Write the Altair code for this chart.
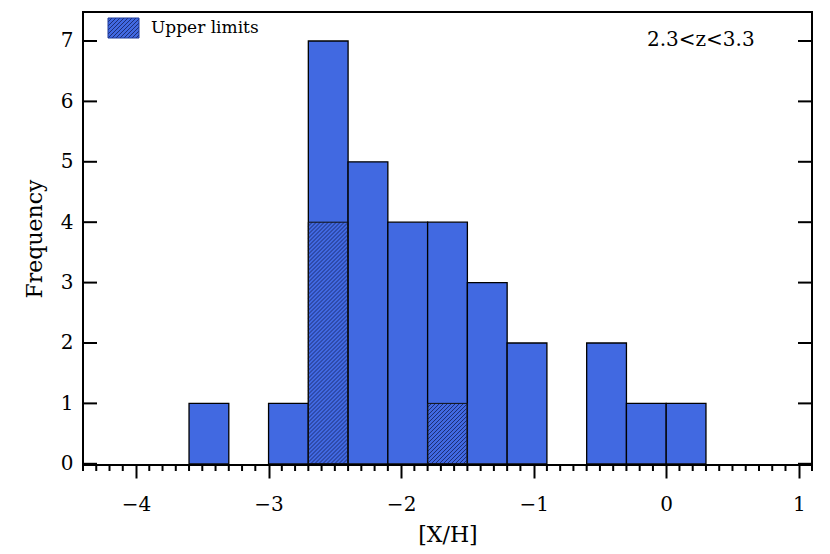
import altair as alt
import numpy as np
import pandas as pd

# ---- data ----
bin_left = [-3.6, -3.3, -3.0, -2.7, -2.4, -2.1, -1.8, -1.5, -1.2, -0.9, -0.6, -0.3, 0.0]
counts = [1, 0, 1, 7, 5, 4, 4, 3, 2, 0, 2, 1, 1]
upper_limits = [0, 0, 0, 4, 0, 0, 1, 0, 0, 0, 0, 0, 0]
bin_width = 0.3
x_major = [-4, -3, -2, -1, 0, 1]
y_major = [0, 1, 2, 3, 4, 5, 6, 7]
legend_label = ["Upper limits"]
panel_label = ["2.3<z<3.3"]

# ---- layout / style ----
XMIN, XMAX = -4.4, 1.1
YMIN, YMAX = -0.02, 7.48
W, H = 729, 453
FONT = "DejaVu Serif"
BLUE = "#4169E1"
HATCH = "#14205a"
PXX = W / (XMAX - XMIN)
PXY = H / (YMAX - YMIN)

xs = alt.Scale(domain=[XMIN, XMAX], nice=False, zero=False)
ys = alt.Scale(domain=[YMIN, YMAX], nice=False, zero=False)

bars = pd.DataFrame({
    "x0": bin_left,
    "x1": [b + bin_width for b in bin_left],
    "n": counts,
    "u": upper_limits,
})
bars["y0"] = 0
bars_nz = bars[bars["n"] > 0]
ul = bars[bars["u"] > 0]


def hatch_segments(x0, x1, y0, y1, step=4.0):
    """45-degree (screen space) hatch lines clipped to a data-space rectangle."""
    w = (x1 - x0) * PXX
    h = (y1 - y0) * PXY
    segs = []
    c = -h
    while c < w:
        a = max(0.0, c)
        b = min(w, h + c)
        if b > a:
            segs.append((x0 + a / PXX, y0 + (a - c) / PXY,
                         x0 + b / PXX, y0 + (b - c) / PXY))
        c += step
    return segs


rows = []
for _, r in ul.iterrows():
    rows += hatch_segments(r["x0"], r["x1"], 0, r["u"])

# legend swatch (placed in pixel space, converted to data space)
sw_px = (25, 56, 6, 26)  # left, right, top, bottom in plot pixels
sw_x0 = XMIN + sw_px[0] / PXX
sw_x1 = XMIN + sw_px[1] / PXX
sw_y1 = YMAX - sw_px[2] / PXY
sw_y0 = YMAX - sw_px[3] / PXY
rows += hatch_segments(sw_x0, sw_x1, sw_y0, sw_y1, step=4.0)
hatch = pd.DataFrame(rows, columns=["xa", "ya", "xb", "yb"])
swatch = pd.DataFrame({"x0": [sw_x0], "x1": [sw_x1], "y0": [sw_y0], "y1": [sw_y1]})

minor = [round(v, 1) for v in np.arange(-44, 12) / 10 if abs(v - round(v)) > 1e-6]

base_x = alt.X("x0:Q", scale=xs,
               axis=alt.Axis(values=x_major, format="d", tickSize=13, tickWidth=2, tickColor="black",
                             domain=False, grid=False, labelFont=FONT, labelFontSize=20,
                             labelColor="black", labelPadding=16,
                             labelExpr="replace(datum.label, '-', '\u2212')",
                             title="[X/H]", titleFont=FONT, titleFontSize=22,
                             titleFontWeight="normal", titleColor="black", titlePadding=10))
base_y = alt.Y("y0:Q", scale=ys,
               axis=alt.Axis(values=y_major, format="d", ticks=False, domain=False, grid=False,
                             labelFont=FONT, labelFontSize=20, labelColor="black",
                             labelPadding=10, title="Frequency", titleFont=FONT,
                             titleFontSize=22, titleFontWeight="normal",
                             titleColor="black", titlePadding=14))

bar_layer = alt.Chart(bars_nz).mark_rect(fill=BLUE, stroke="black", strokeWidth=1.3).encode(
    x=base_x, x2="x1:Q", y=base_y, y2="n:Q")

swatch_fill = alt.Chart(swatch).mark_rect(fill=BLUE).encode(
    x=alt.X("x0:Q", scale=xs), x2="x1:Q", y=alt.Y("y0:Q", scale=ys), y2="y1:Q")

hatch_layer = alt.Chart(hatch).mark_rule(color=HATCH, strokeWidth=0.8).encode(
    x=alt.X("xa:Q", scale=xs), x2="xb:Q", y=alt.Y("ya:Q", scale=ys), y2="yb:Q")

ul_outline = alt.Chart(ul).mark_rect(fill=None, fillOpacity=0, stroke="#111", strokeWidth=1).encode(
    x=alt.X("x0:Q", scale=xs), x2="x1:Q", y=alt.Y("y0:Q", scale=ys), y2="u:Q")

swatch_border = alt.Chart(swatch).mark_rect(fill=None, fillOpacity=0, stroke="#1f3a9a", strokeWidth=1).encode(
    x=alt.X("x0:Q", scale=xs), x2="x1:Q", y=alt.Y("y0:Q", scale=ys), y2="y1:Q")

minor_ticks = alt.Chart(pd.DataFrame({"t": minor})).mark_rule(color="black", strokeWidth=2).encode(
    x=alt.X("t:Q", scale=xs), y=alt.value(H), y2=alt.value(H + 6))

left_ticks = alt.Chart(pd.DataFrame({"t": y_major})).mark_rule(color="black", strokeWidth=2).encode(
    y=alt.Y("t:Q", scale=ys), x=alt.value(0), x2=alt.value(14))
right_ticks = alt.Chart(pd.DataFrame({"t": y_major})).mark_rule(color="black", strokeWidth=2).encode(
    y=alt.Y("t:Q", scale=ys), x=alt.value(W - 14), x2=alt.value(W))

frame = alt.Chart(pd.DataFrame({"f": [0]})).mark_rect(
    fill=None, fillOpacity=0, stroke="black", strokeWidth=2).encode(
    x=alt.value(0), x2=alt.value(W), y=alt.value(0), y2=alt.value(H))

legend_text = alt.Chart(pd.DataFrame({"t": legend_label})).mark_text(
    font=FONT, fontSize=17, align="left", baseline="middle", color="black").encode(
    text="t:N", x=alt.value(68), y=alt.value(16))
panel_text = alt.Chart(pd.DataFrame({"t": panel_label})).mark_text(
    font=FONT, fontSize=20, align="left", baseline="middle", color="black").encode(
    text="t:N", x=alt.value(564), y=alt.value(28))

chart = alt.layer(
    bar_layer, swatch_fill, hatch_layer, ul_outline, swatch_border,
    minor_ticks, left_ticks, right_ticks, frame, legend_text, panel_text,
).properties(
    width=W, height=H,
    background="white",
    autosize=alt.AutoSizeParams(type="none"),
    padding={"left": 75, "top": 4, "right": 9, "bottom": 84},
).configure_view(stroke=None, strokeWidth=0)

chart.save("out.html", embed_options={"renderer": "svg", "actions": False})
